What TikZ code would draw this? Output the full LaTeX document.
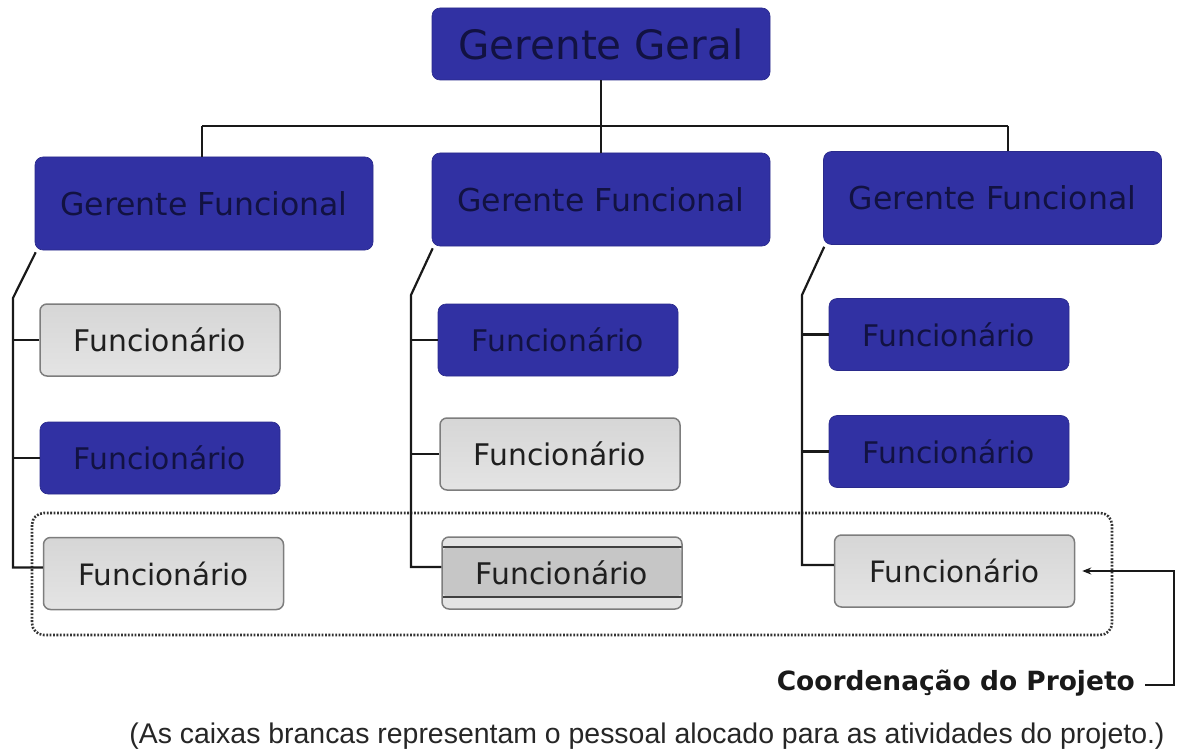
\documentclass[tikz,border=0pt]{standalone}
\usepackage{fontspec}
\setmainfont{DejaVu Sans}
\newfontfamily\arialf{Liberation Sans}
\usepackage{graphicx}
\usetikzlibrary{arrows.meta}
\definecolor{boxblue}{RGB}{49,49,163}
\definecolor{navytext}{RGB}{18,18,66}
\definecolor{graytop}{RGB}{214,214,214}
\definecolor{graybot}{RGB}{228,228,228}
\definecolor{graydark}{RGB}{198,198,198}
\definecolor{grayedge}{RGB}{125,125,125}
\definecolor{linec}{RGB}{25,25,25}
\newcommand\fitw[2]{\resizebox{#1}{!}{#2}}
\begin{document}
\begin{tikzpicture}[x=1pt,y=-1pt,
  bluebox/.style={fill=boxblue, draw=boxblue!85!black, line width=0.6pt, rounded corners=8pt, text=navytext, inner sep=0pt},
  graybox/.style={top color=graytop, bottom color=graybot, draw=grayedge, line width=1.5pt, rounded corners=7pt, text=black!88, inner sep=0pt},
  gfsize/.style={minimum width=338pt, minimum height=93pt},
  fsize/.style={minimum width=240pt, minimum height=72pt},
  conn/.style={draw=linec, line width=2.2pt},
  dotbox/.style={draw=black!80, line width=2.6pt, dash pattern=on 1.8pt off 1.6pt, rounded corners=12pt}
]
\useasboundingbox (0,0) rectangle (1178,749);
\fill[white] (0,0) rectangle (1178,749);

% top
\node[bluebox, minimum width=338pt, minimum height=72pt] (gg) at (601,44) {\fitw{285pt}{Gerente Geral}};

% functional managers
\node[bluebox, gfsize] (gf1) at (204,203.5) {\fitw{287pt}{Gerente Funcional}};
\node[bluebox, gfsize] (gf2) at (601,199.5) {\fitw{287pt}{Gerente Funcional}};
\node[bluebox, gfsize] (gf3) at (992.5,198) {\fitw{287pt}{Gerente Funcional}};

% employees
\node[graybox, fsize] (l1) at (160,340) {\fitw{172pt}{Funcionário}};
\node[bluebox, fsize] (l2) at (160,458) {\fitw{172pt}{Funcionário}};
\node[graybox, fsize] (l3) at (163.5,573.5) {\fitw{170pt}{Funcionário}};

\node[bluebox, fsize] (m1) at (558,340) {\fitw{172pt}{Funcionário}};
\node[graybox, fsize] (m2) at (560,454) {\fitw{172pt}{Funcionário}};
\node[graybox, fsize, top color=graybot, bottom color=graybot,
  path picture={
    \fill[graydark] ([yshift=-10pt]path picture bounding box.north west) rectangle ([yshift=12pt]path picture bounding box.south east);
    \draw[black!75, line width=1.3pt] ([yshift=-10pt]path picture bounding box.north west) -- ([yshift=-10pt]path picture bounding box.north east);
    \draw[black!75, line width=1.3pt] ([yshift=12pt]path picture bounding box.south west) -- ([yshift=12pt]path picture bounding box.south east);
  }] (m3) at (562,573) {\fitw{172pt}{Funcionário}};

\node[bluebox, fsize] (r1) at (949,334.5) {\fitw{172pt}{Funcionário}};
\node[bluebox, fsize] (r2) at (949,451.5) {\fitw{172pt}{Funcionário}};
\node[graybox, fsize] (r3) at (954.5,571) {\fitw{170pt}{Funcionário}};

% project coordination dotted box
\draw[dotbox] (32,513) rectangle (1112,635);

% top connectors
\coordinate (barl) at (202,126);
\coordinate (barr) at (1008,126);
\draw[conn] (gg.south) -- (gf2.north);
\draw[conn] (barl) -- (barr);
\draw[conn] (barl) -- (barl |- gf1.north);
\draw[conn] (barr) -- (barr |- gf3.north);

% left column
\coordinate (lk) at (13,298);
\draw[conn] ([xshift=1pt,yshift=-2pt]gf1.south west) -- (lk) |- ([yshift=6pt]l3.west);
\draw[conn] (l1.west) -- (lk |- l1.west);
\draw[conn] (l2.west) -- (lk |- l2.west);

% middle column
\coordinate (mk) at (411,295);
\draw[conn] ([xshift=1pt,yshift=-2pt]gf2.south west) -- (mk) |- ([yshift=6pt]m3.west);
\draw[conn] (m1.west) -- (mk |- m1.west);
\draw[conn] (m2.west) -- (mk |- m2.west);

% right column
\coordinate (rk) at (802,295);
\draw[conn] ([xshift=1pt,yshift=-2pt]gf3.south west) -- (rk) |- ([yshift=6pt]r3.west);
\draw[conn] (r1.west) -- (rk |- r1.west);
\draw[conn] (r2.west) -- (rk |- r2.west);

% coordination label and arrow
\node[anchor=east, inner sep=0pt, text=black!90] (coord) at (1135,683) {\fitw{358pt}{\bfseries Coordenação do Projeto}};
\coordinate (bk1) at (1174,685);
\coordinate (bk2) at (1174,571);
\draw[conn, -{Stealth[length=9pt,width=7pt]}] ([xshift=10pt]coord.east |- bk1) -- (bk1) -- (bk2) -- ([xshift=7pt]r3.east);

% footnote
\node[inner sep=0pt, text=black!85] (note) at (647,736) {\fitw{1035pt}{\arialf (As caixas brancas representam o pessoal alocado para as atividades do projeto.)}};
\end{tikzpicture}
\end{document}
